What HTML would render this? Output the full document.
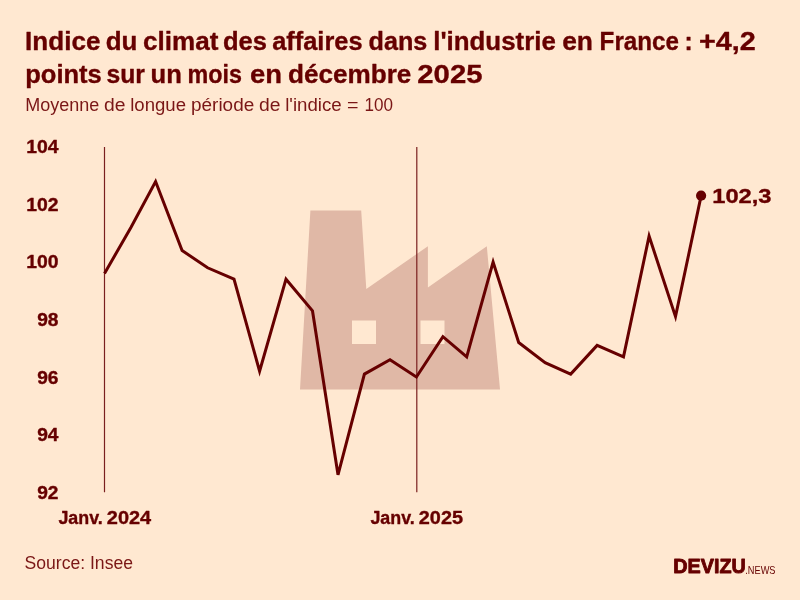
<!DOCTYPE html>
<html lang="fr">
<head>
<meta charset="utf-8">
<title>Indice du climat des affaires dans l'industrie en France</title>
<style>
html,body{margin:0;padding:0;background:#FFE8D1;}
body{width:800px;height:600px;overflow:hidden;font-family:"Liberation Sans",sans-serif;}
svg{display:block;}
text{font-family:"Liberation Sans",sans-serif;fill:#660000;}
.b{font-weight:bold;stroke:#660000;stroke-width:0.35px;stroke-linejoin:round;}
.r{fill:#7A1616;}
</style>
</head>
<body>
<svg width="800" height="600" viewBox="0 0 800 600">
<rect width="800" height="600" fill="#FFE8D1"/>
<!-- title -->
<text id="t1" class="b" font-size="25.5" y="50"><tspan x="25.1" textLength="75.3" lengthAdjust="spacingAndGlyphs">Indice</tspan> <tspan x="105.7" textLength="31.7" lengthAdjust="spacingAndGlyphs">du</tspan> <tspan x="143.1" textLength="75.3" lengthAdjust="spacingAndGlyphs">climat</tspan> <tspan x="223.0" textLength="44.0" lengthAdjust="spacingAndGlyphs">des</tspan> <tspan x="272.2" textLength="90.4" lengthAdjust="spacingAndGlyphs">affaires</tspan> <tspan x="368.6" textLength="58.8" lengthAdjust="spacingAndGlyphs">dans</tspan> <tspan x="433.2" textLength="122.6" lengthAdjust="spacingAndGlyphs">l'industrie</tspan> <tspan x="562.2" textLength="30.8" lengthAdjust="spacingAndGlyphs">en</tspan> <tspan x="599.6" textLength="79.4" lengthAdjust="spacingAndGlyphs">France</tspan> <tspan x="684.6" textLength="8.2" lengthAdjust="spacingAndGlyphs">:</tspan> <tspan x="699.0" textLength="56.8" lengthAdjust="spacingAndGlyphs">+4,2</tspan></text>
<text id="t2" class="b" font-size="25.5" y="83"><tspan x="25.2" textLength="76.6" lengthAdjust="spacingAndGlyphs">points</tspan> <tspan x="106.5" textLength="38.5" lengthAdjust="spacingAndGlyphs">sur</tspan> <tspan x="150.6" textLength="31.3" lengthAdjust="spacingAndGlyphs">un</tspan> <tspan x="187.5" textLength="54.4" lengthAdjust="spacingAndGlyphs">mois</tspan> <tspan x="250.0" textLength="32.0" lengthAdjust="spacingAndGlyphs">en</tspan> <tspan x="288.0" textLength="123.4" lengthAdjust="spacingAndGlyphs">décembre</tspan> <tspan x="417.3" textLength="65.2" lengthAdjust="spacingAndGlyphs">2025</tspan></text>
<text id="sub" class="r" font-size="18" y="111"><tspan x="25.2" textLength="74.0" lengthAdjust="spacingAndGlyphs">Moyenne</tspan> <tspan x="104.0" textLength="21.5" lengthAdjust="spacingAndGlyphs">de</tspan> <tspan x="130.2" textLength="55.8" lengthAdjust="spacingAndGlyphs">longue</tspan> <tspan x="191.0" textLength="63.2" lengthAdjust="spacingAndGlyphs">période</tspan> <tspan x="259.0" textLength="21.5" lengthAdjust="spacingAndGlyphs">de</tspan> <tspan x="285.2" textLength="56.5" lengthAdjust="spacingAndGlyphs">l'indice</tspan> <tspan x="347.0" textLength="11.5" lengthAdjust="spacingAndGlyphs">=</tspan> <tspan x="364.5" textLength="28.5" lengthAdjust="spacingAndGlyphs">100</tspan></text>
<!-- factory -->
<path d="M300 389.4 L310.4 210.5 L361.2 210.5 L366.3 289 L427.9 246.2 L427.9 287.5 L486.8 246.2 L500 389.4 Z M352 320.5 H376 V344 H352 Z M420.5 320.5 H444.5 V344 H420.5 Z" fill="#E0B8A6" fill-rule="evenodd"/>
<!-- vertical lines -->
<line x1="104.5" y1="147" x2="104.5" y2="492.3" stroke="#7A1F1F" stroke-width="1.2"/>
<line x1="416.8" y1="147" x2="416.8" y2="492.3" stroke="#7A1F1F" stroke-width="1.2"/>
<!-- y labels -->
<g class="b" font-size="17.8">
<text id="y104" x="26.3" y="153" textLength="32.3" lengthAdjust="spacingAndGlyphs">104</text>
<text x="26.3" y="210.7" textLength="32.3" lengthAdjust="spacingAndGlyphs">102</text>
<text x="26.3" y="268.3" textLength="32.3" lengthAdjust="spacingAndGlyphs">100</text>
<text x="37.2" y="326" textLength="21.3" lengthAdjust="spacingAndGlyphs">98</text>
<text x="37.2" y="383.7" textLength="21.3" lengthAdjust="spacingAndGlyphs">96</text>
<text x="37.2" y="441.3" textLength="21.3" lengthAdjust="spacingAndGlyphs">94</text>
<text id="y92" x="37.2" y="499" textLength="21.3" lengthAdjust="spacingAndGlyphs">92</text>
</g>
<!-- x labels -->
<g class="b" font-size="18">
<text y="524"><tspan x="58.4" textLength="44.4" lengthAdjust="spacingAndGlyphs">Janv.</tspan> <tspan x="106.8" textLength="44.4" lengthAdjust="spacingAndGlyphs">2024</tspan></text>
<text y="524"><tspan x="370.4" textLength="44.4" lengthAdjust="spacingAndGlyphs">Janv.</tspan> <tspan x="418.8" textLength="44.2" lengthAdjust="spacingAndGlyphs">2025</tspan></text>
</g>
<!-- line -->
<polyline fill="none" stroke="#660000" stroke-width="3" stroke-linejoin="miter" stroke-miterlimit="4.5" points="104.5,273.5 130.9,227.5 155.6,181.5 182.1,250.5 207.6,267.8 234.0,279.2 259.6,371.2 286.0,279.2 312.5,310.9 338.0,474.8 364.4,374.1 390.0,359.8 416.4,377.0 442.9,336.7 466.7,356.9 493.1,262.0 518.7,342.5 545.1,362.6 570.7,374.1 597.1,345.4 623.5,356.9 649.1,236.1 675.5,316.6 701.1,195.9"/>
<circle cx="701.1" cy="195.7" r="5.1" fill="#660000"/>
<text id="lab" class="b" x="712.2" y="203.3" font-size="19.7" textLength="59.4" lengthAdjust="spacingAndGlyphs">102,3</text>
<!-- footer -->
<text id="src" class="r" x="24.5" y="569" font-size="18" textLength="108.5" lengthAdjust="spacingAndGlyphs">Source: Insee</text>
<text id="logo" x="673.2" y="573.3" font-size="20.6" class="b" style="stroke-width:0.9px" textLength="72.6" lengthAdjust="spacingAndGlyphs">DEVIZU</text>
<text id="news" x="745.3" y="574.1" font-size="11.2" textLength="30.2" lengthAdjust="spacingAndGlyphs">.NEWS</text>
</svg>
</body>
</html>
